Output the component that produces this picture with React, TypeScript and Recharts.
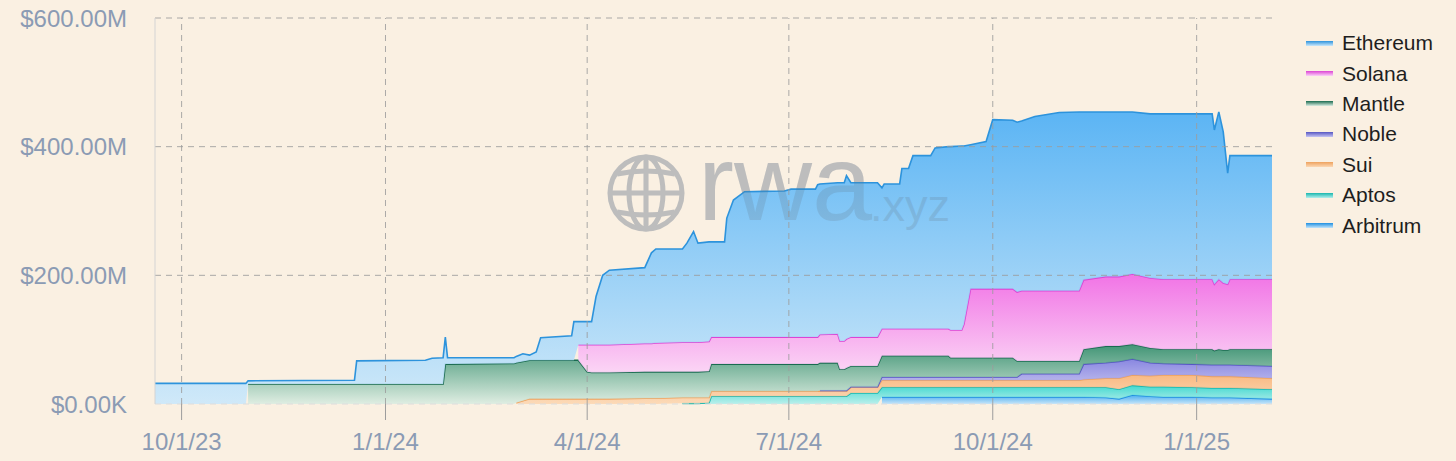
import { AreaChart, Area, XAxis, YAxis, ReferenceLine } from 'recharts'

// values in $M (null = chain not live yet)
const dates = [
  '2023-09-19', '2023-10-30', '2023-10-31', '2023-12-18', '2023-12-19', '2024-01-19', '2024-01-22', '2024-01-27',
  '2024-01-28', '2024-01-29', '2024-02-28', '2024-02-29', '2024-03-03', '2024-03-06', '2024-03-09', '2024-03-11',
  '2024-03-25', '2024-03-26', '2024-03-28', '2024-04-01', '2024-04-03', '2024-04-05', '2024-04-08', '2024-04-11',
  '2024-04-27', '2024-04-30', '2024-05-02', '2024-05-14', '2024-05-16', '2024-05-19', '2024-05-21', '2024-05-26',
  '2024-05-27', '2024-06-02', '2024-06-03', '2024-06-06', '2024-06-11', '2024-06-29', '2024-07-02', '2024-07-13',
  '2024-07-14', '2024-07-15', '2024-07-23', '2024-07-24', '2024-07-26', '2024-07-27', '2024-07-29', '2024-08-10',
  '2024-08-12', '2024-08-13', '2024-08-20', '2024-08-21', '2024-08-24', '2024-08-26', '2024-09-03', '2024-09-05',
  '2024-09-11', '2024-09-12', '2024-09-17', '2024-09-18', '2024-09-21', '2024-09-28', '2024-10-01', '2024-10-10',
  '2024-10-12', '2024-10-14', '2024-10-20', '2024-10-31', '2024-11-09', '2024-11-11', '2024-11-21', '2024-11-27',
  '2024-12-03', '2024-12-11', '2024-12-17', '2024-12-30', '2025-01-08', '2025-01-09', '2025-01-11', '2025-01-13',
  '2025-01-15', '2025-01-16', '2025-02-04',
]

const n = null
const arbitrum = [
  n, n, n, n, n, n, n, n, n, n, n, n, n, n, n, n, n, n, n, n, n, n, n, n, n, n, n, n, n, n, n, n,
  n, n, n, n, n, n, n, n, n, n, n, n, n, n, n, n,
  11, 11, 11, 11, 11, 11, 11, 11, 11, 11, 11, 11, 11, 11, 11, 11, 11, 11, 11, 11, 11, 11, 10, 8,
  14, 12, 11, 11, 10, 10, 10, 10, 10, 10, 8,
]
const aptos = [
  n, n, n, n, n, n, n, n, n, n, n, n, n, n, n, n, n, n, n, n, n, n, n, n, n, n, n, 1, 1, 1, 1, 2,
  12, 12, 12, 12, 12, 12, 12, 12, 12, 12, 12, 12, 12, 12, 17, 17,
  15, 15, 15, 15, 15, 15, 15, 15, 15, 15, 15, 15, 15, 15, 15, 15, 15, 15, 15, 15, 15, 15, 16, 15,
  15, 15, 16, 15, 15, 15, 15, 15, 15, 15, 15,
]
const sui = [
  n, n, n, n, n, n, n, n, n, n, n, 2, 5, 8, 8, 8, 8, 8, 8, 8, 8, 8, 8, 8, 9, 9, 9, 9, 9, 9, 9, 8,
  8, 8, 8, 8, 8, 8, 8, 8, 8, 8, 8, 8, 8, 8, 9, 9,
  11, 11, 11, 11, 11, 11, 11, 11, 11, 11, 11, 11, 11, 11, 11, 11, 11, 11, 11, 11, 11, 12, 14, 17,
  16, 17, 18, 19, 18, 18, 18, 18, 18, 18, 17,
]
const noble = [
  n, n, n, n, n, n, n, n, n, n, n, n, n, n, n, n, n, n, n, n, n, n, n, n, n, n, n, n, n, n, n, n,
  n, n, n, n, n, n, n, n, n, 1, 1, 1, 1, 1, 1, 1,
  5, 5, 5, 5, 5, 5, 5, 5, 5, 5, 5, 5, 5, 5, 5, 5, 5, 10, 10, 10, 10, 24, 24, 26,
  25, 20, 18, 17, 18, 18, 18, 18, 18, 18, 19,
]
const mantle = [
  n, n, 31, 31, 31, 31, 31, 31, 62, 62, 63, 62, 61, 60, 60, 60, 60, 60, 60, 42, 41, 41, 41, 41, 41, 41, 41, 40, 40, 40, 40, 41,
  42, 42, 42, 42, 42, 42, 42, 42, 42, 43, 43, 33, 33, 35, 32, 32,
  33, 33, 33, 33, 33, 33, 33, 33, 33, 30, 30, 30, 30, 30, 30, 30, 25, 20, 20, 20, 20, 23, 26, 24,
  23, 23, 22, 23, 24, 22, 24, 23, 23, 24, 26,
]
const solana = [
  n, n, n, n, n, n, n, n, n, n, n, n, n, n, n, n, n, n, 24, 42, 43, 43, 43, 43, 44, 44, 45, 46, 46, 46, 46, 46,
  42, 42, 42, 42, 42, 42, 42, 42, 42, 44, 45, 44, 44, 45, 45, 45,
  42, 42, 42, 42, 42, 42, 42, 42, 42, 43, 43, 52, 107, 107, 107, 107, 107, 109, 109, 109, 109, 108, 108, 108,
  109, 109, 109, 109, 109, 103, 109, 104, 102, 109, 109,
]
const ethereum = [
  32, 32, 5, 6, 36, 37, 40, 41, 42, 10, 9, 10, 12, 8, 13, 35, 38, 60, 36, 36, 36, 75, 108, 116, 118, 141, 146, 145, 154, 172, 154, 155,
  148, 148, 185, 213, 226, 227, 230, 230, 237, 234, 235, 246, 246, 254, 240, 240,
  219, 225, 225, 249, 249, 269, 269, 281, 283, 285, 286, 277, 224, 229, 263, 262, 264, 264, 271, 277, 278, 261, 256, 256,
  252, 255, 257, 257, 257, 240, 260, 235, 173, 192, 192,
]

const startDate = '2023-09-19'
const endDate = '2025-02-04'
const xTickDates = ['2023-10-01', '2024-01-01', '2024-04-01', '2024-07-01', '2024-10-01', '2025-01-01']
const xTickLabels = ['10/1/23', '1/1/24', '4/1/24', '7/1/24', '10/1/24', '1/1/25']
const yTicks = [0, 200, 400, 600]
const yTickLabels = ['$0.00K', '$200.00M', '$400.00M', '$600.00M']

const toTs = (s: string) => Date.parse(s + 'T00:00:00Z')

// bottom of the stack first
const series = [
  { key: 'arbitrum', name: 'Arbitrum', values: arbitrum, stroke: '#1f8fe0', top: '#36a6f2', bottom: '#c2e4fb' },
  { key: 'aptos', name: 'Aptos', values: aptos, stroke: '#18b6ae', top: '#2fd6ce', bottom: '#b3efec' },
  { key: 'sui', name: 'Sui', values: sui, stroke: '#eea25e', top: '#f9b479', bottom: '#fcd8b4' },
  { key: 'noble', name: 'Noble', values: noble, stroke: '#5656c2', top: '#7c7be0', bottom: '#c6c4f3' },
  { key: 'mantle', name: 'Mantle', values: mantle, stroke: '#1a6b50', top: '#2c8a69', bottom: '#dcede2' },
  { key: 'solana', name: 'Solana', values: solana, stroke: '#dc44d4', top: '#f066e6', bottom: '#fbd2f7' },
  { key: 'ethereum', name: 'Ethereum', values: ethereum, stroke: '#2d93dc', top: '#4aaef6', bottom: '#cbe8fb' },
]

const rows = dates.map((d, i) => {
  const row: Record<string, number | null> = { t: toTs(d) }
  series.forEach((s) => { row[s.key] = s.values[i] })
  return row
})

const xTicks = xTickDates.map(toTs)
const font = '"Liberation Sans", Arial, sans-serif'
const axisText = { fill: '#8b9bb4', fontSize: 24, fontFamily: font }
const gridColor = '#9c9c9c'

// globe + "rwa.xyz" mark; drawn once under the chart and once faintly over it
function Watermark({ color, opacity, z }: { color: string; opacity: number; z: number }) {
  return (
    <svg width={1456} height={461} style={{ position: 'absolute', left: 0, top: 0, opacity, zIndex: z, pointerEvents: 'none' }}>
      <g stroke={color} strokeWidth={5} fill="none">
        <circle cx={646} cy={193} r={36} />
        <ellipse cx={646} cy={193} rx={17} ry={36} />
        <line x1={646} y1={157} x2={646} y2={229} />
        <line x1={610} y1={193} x2={682} y2={193} />
        <path d="M 617 174 Q 646 168 675 174" />
        <path d="M 617 212 Q 646 218 675 212" />
      </g>
      <text x={698} y={220} fontSize={108} fill={color} fontFamily={font}>rwa</text>
      <text x={870} y={221} fontSize={45} fill={color} fontFamily={font}>.xyz</text>
    </svg>
  )
}

function ChainLegend() {
  const items = [...series].reverse()
  return (
    <div style={{ position: 'absolute', left: 1306, top: 28, fontFamily: font, zIndex: 3 }}>
      {items.map((s) => (
        <div key={s.key} style={{ display: 'flex', alignItems: 'center', height: 30.4 }}>
          <div style={{ width: 27, height: 5, background: `linear-gradient(${s.stroke}, ${s.bottom})`, marginRight: 9 }} />
          <span style={{ fontSize: 21, color: '#1e1e1e' }}>{s.name}</span>
        </div>
      ))}
    </div>
  )
}

export default function App() {
  return (
    <div style={{ position: 'absolute', left: 0, top: 0, width: 1456, height: 461, background: '#faf0e2', overflow: 'hidden' }}>
      <Watermark color="#cdcdcd" opacity={1} z={0} />
      <div style={{ position: 'absolute', left: 0, top: 0, zIndex: 1 }}>
        <AreaChart width={1456} height={461} data={rows} margin={{ top: 18, right: 184, bottom: 0, left: 0 }}>
          <defs>
            {series.map((s) => (
              <linearGradient key={s.key} id={`g-${s.key}`} x1="0" y1="0" x2="0" y2="1">
                <stop offset="0%" stopColor={s.top} />
                <stop offset="100%" stopColor={s.bottom} />
              </linearGradient>
            ))}
          </defs>
          <XAxis
            type="number"
            dataKey="t"
            domain={[toTs(startDate), toTs(endDate)]}
            ticks={xTicks}
            tickFormatter={(v: number) => xTickLabels[xTicks.indexOf(v)]}
            axisLine={false}
            tickLine={{ stroke: gridColor }}
            tickSize={16}
            tickMargin={13}
            height={57}
            tick={axisText}
          />
          <YAxis
            type="number"
            domain={[0, 600]}
            ticks={yTicks}
            tickFormatter={(v: number) => yTickLabels[yTicks.indexOf(v)]}
            axisLine={{ stroke: '#d4d4d4' }}
            tickLine={false}
            tickSize={0}
            tickMargin={28}
            width={155}
            tick={axisText}
          />
          {series.map((s) => (
            <Area
              key={s.key}
              type="linear"
              dataKey={s.key}
              name={s.name}
              stackId="chains"
              stroke={s.stroke}
              strokeWidth={1.6}
              fill={`url(#g-${s.key})`}
              fillOpacity={0.9}
              dot={false}
              activeDot={false}
              isAnimationActive={false}
            />
          ))}
          <ReferenceLine y={0} stroke="#dcdcdc" strokeDasharray="6 5" />
          {yTicks.slice(1).map((v) => (
            <ReferenceLine key={v} y={v} stroke={gridColor} strokeOpacity={0.85} strokeDasharray="6 5" />
          ))}
          {xTicks.map((v) => (
            <ReferenceLine key={v} x={v} stroke={gridColor} strokeOpacity={0.85} strokeDasharray="6 5" />
          ))}
        </AreaChart>
      </div>
      <Watermark color="#707070" opacity={0.16} z={2} />
      <ChainLegend />
    </div>
  )
}
